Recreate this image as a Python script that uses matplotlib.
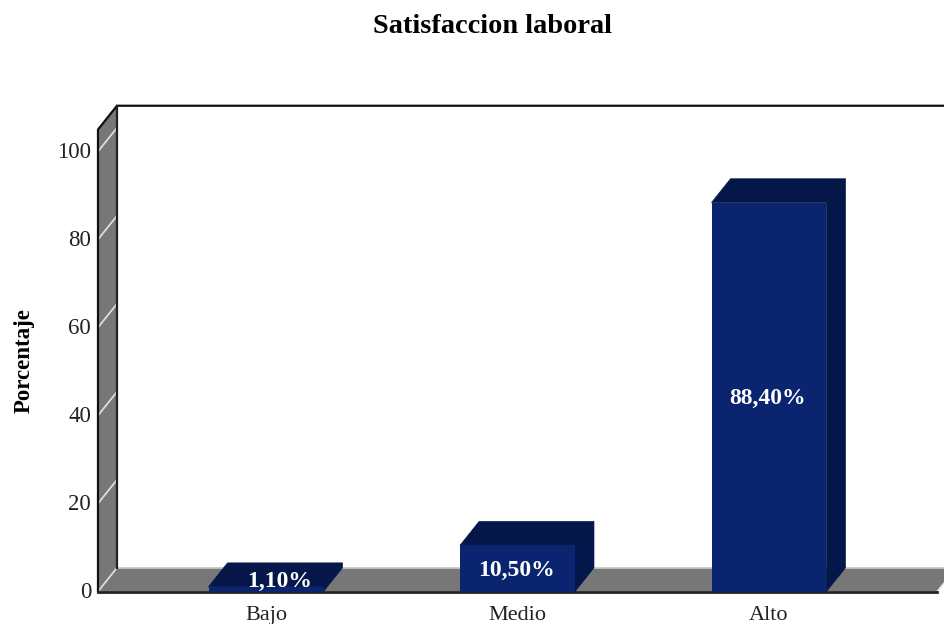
#!/usr/bin/python3

import matplotlib
matplotlib.use('Agg')
import matplotlib.pyplot as plt
from matplotlib.patches import Polygon
from matplotlib.transforms import ScaledTranslation
import numpy as np

categorias = ['Bajo', 'Medio', 'Alto']
porcentajes = [1.1, 10.5, 88.4]
etiquetas = ['1,10%', '10,50%', '88,40%']
yticks = [0, 20, 40, 60, 80, 100]

# profundidad del efecto 3D en unidades de datos
DX = 0.0755
DY = 5.4
ANCHO = 0.457
XMIN, XMAX = -0.668, 2.668
YMAX = 105

plt.rcParams['font.family'] = ['Liberation Serif', 'DejaVu Serif']

fig = plt.figure(figsize=(9.45, 6.24), dpi=100)
ax = fig.add_axes([98 / 945, (624 - 591.5) / 624, 839 / 945, YMAX * 4.4 / 624])
ax.set_xlim(XMIN, XMAX)
ax.set_ylim(0, YMAX)
for s in ax.spines.values():
    s.set_visible(False)
ax.patch.set_visible(False)

GRIS = '#777777'
x_fin = XMAX + 0.2

# pared izquierda y piso
pared = [(XMIN, 0), (XMIN + DX, DY), (XMIN + DX, YMAX + DY), (XMIN, YMAX)]
ax.add_patch(Polygon(pared, closed=True, fc=GRIS, ec='none', clip_on=False, zorder=1))
piso = [(XMIN, 0), (XMAX, 0), (XMAX + DX, DY), (XMIN + DX, DY)]
ax.add_patch(Polygon(piso, closed=True, fc=GRIS, ec='none', clip_on=False, zorder=1))

# lineas de la grilla sobre la pared
for t in yticks:
    ax.plot([XMIN, XMIN + DX], [t, t + DY], color='#dddddd', lw=1.3, clip_on=False, zorder=2)
ax.plot([XMIN + DX, XMAX + DX], [DY, DY], color='#cccccc', lw=1.2, clip_on=False, zorder=2)

# bordes
ax.plot([XMIN, XMIN, XMIN + DX, x_fin], [0, YMAX, YMAX + DY, YMAX + DY],
        color='#111111', lw=1.6, clip_on=False, zorder=3, solid_joinstyle='miter')
ax.plot([XMIN + DX, XMIN + DX], [DY, YMAX + DY], color='#222222', lw=1.6, clip_on=False, zorder=3)
ax.plot([XMIN, XMAX], [0, 0], color='#222222', lw=2, clip_on=False, zorder=3)
ax.plot([XMAX, XMAX + DX], [0, DY], color='#dddddd', lw=1, clip_on=False, zorder=2)

# barras
x = np.arange(len(categorias))
for xi, v in zip(x, porcentajes):
    izq, der = xi - ANCHO / 2, xi + ANCHO / 2
    ax.add_patch(Polygon([(izq, v), (der, v), (der + DX, v + DY), (izq + DX, v + DY)],
                         closed=True, fc='#051748', ec='#051748', lw=0.5, zorder=4, clip_on=False))
    ax.add_patch(Polygon([(der, 0), (der + DX, DY), (der + DX, v + DY), (der, v)],
                         closed=True, fc='#04174a', ec='#04174a', lw=0.5, zorder=4, clip_on=False))
ax.bar(x, porcentajes, width=ANCHO, color='#0a2470', zorder=5, clip_on=False)

# etiquetas de valor
for xi, v, et in zip(x, porcentajes, etiquetas):
    if v < 5:
        ax.text(xi + 0.055, v + 1.2, et, color='white', fontweight='bold', fontsize=17,
                ha='center', va='center', zorder=6)
    else:
        ax.text(xi - 0.005, v / 2 - 0.4, et, color='white', fontweight='bold', fontsize=17,
                ha='center', va='center', zorder=6)

ax.set_xticks(x, categorias)
ax.set_yticks(yticks)
ax.tick_params(axis='both', length=0, labelsize=16.5, colors='#222222')
ax.tick_params(axis='x', labelsize=16, pad=10.5)
ax.tick_params(axis='y', pad=5)
# subir 1 px las etiquetas del eje y
sube = ScaledTranslation(0, 1 / 100, fig.dpi_scale_trans)
for lab in ax.get_yticklabels():
    lab.set_transform(lab.get_transform() + sube)
ax.set_ylabel('Porcentaje', fontweight='bold', fontsize=16.5)
ax.yaxis.set_label_coords(-0.0752, 0.5)

fig.text(493 / 945, 1 - 26.5 / 624, 'Satisfaccion laboral', fontweight='bold', fontsize=20.4,
         ha='center', va='center')

fig.savefig('out.png', dpi=100)
